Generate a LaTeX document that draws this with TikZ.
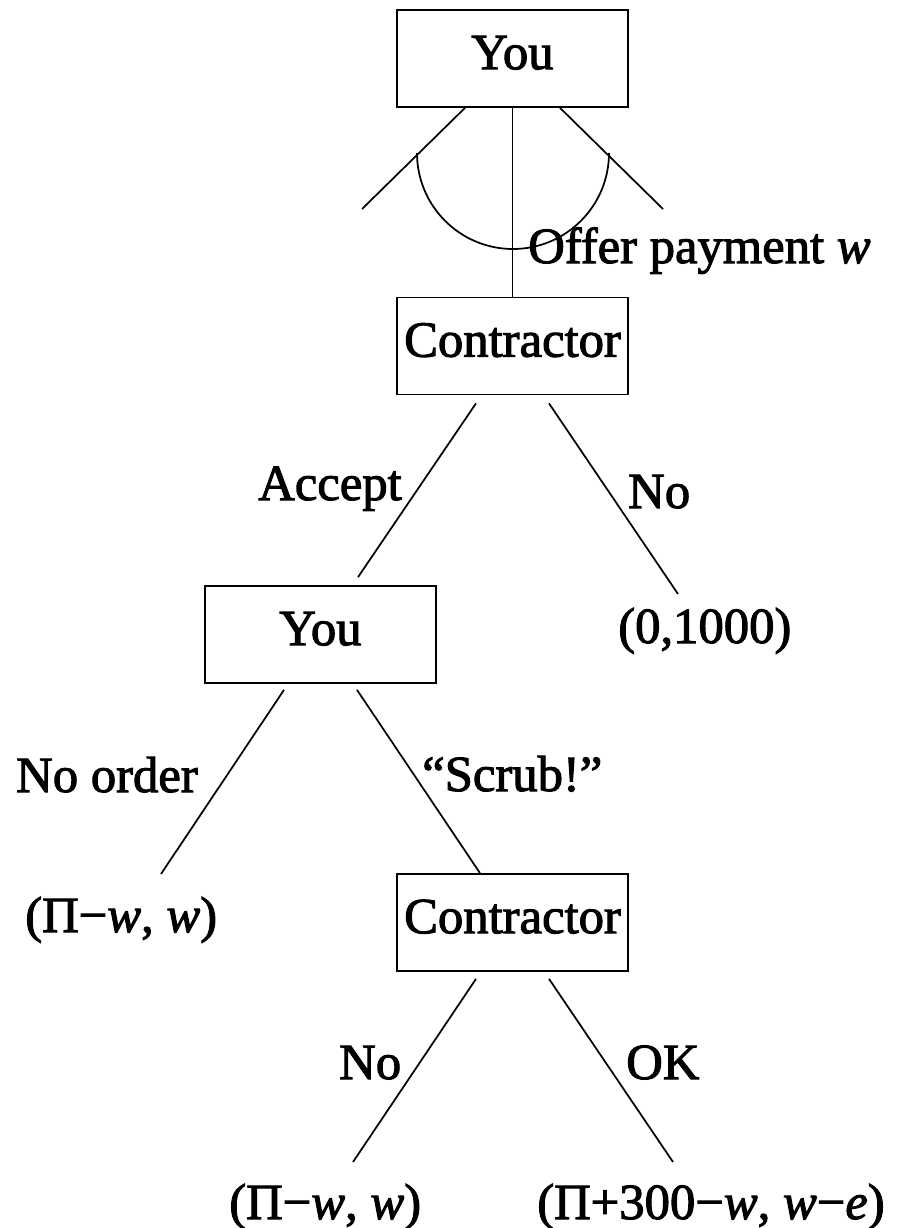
\documentclass[tikz,border=0pt]{standalone}
\usepackage{fontspec}
\setmainfont{Liberation Serif}[FakeBold=2]
\usetikzlibrary{calc}

\newcommand{\vw}{\textit{w}}
\newcommand{\ve}{\textit{e}}

\tikzset{
  pic text/.style={font=\fontsize{38}{45}\selectfont, inner sep=0pt},
  player/.style={draw, line width=1.3pt, rectangle, inner sep=0pt,
    minimum width=173.25pt, minimum height=72.75pt,
    text height=25pt, text depth=9pt, font=\fontsize{38}{45}\selectfont},
  move/.style={line width=1.3pt},
  lab/.style={pic text, anchor=base west},
}

\begin{document}
\begin{tikzpicture}[x=0.75pt, y=-0.75pt]
  \useasboundingbox (0,0) rectangle (909,1228);

  % decision nodes
  \node[player] (you1) at (512.5,58.5) {You};
  \node[player] (con1) at (512.5,346) {Contractor};
  \node[player] (you2) at (320.5,634.5) {You};
  \node[player] (con2) at (512.5,922.5) {Contractor};

  % free ends of branches
  \coordinate (offL) at (362,209);
  \coordinate (offR) at (663,209);
  \coordinate (endNo1) at (678,594);
  \coordinate (endNoOrder) at (161,874);
  \coordinate (endNo2) at (353,1162);
  \coordinate (endOK) at (673,1162);

  % the continuum of offers from the first node
  \draw[move] ($(you1.south)+(-47.5,0)$) -- (offL);
  \draw[move] ($(you1.south)+(47.5,0)$) -- (offR);
  \draw[move] (you1.south) -- (con1.north);
  \draw[move] (417,153) arc[start angle=180, end angle=0, radius=96];

  % contractor's first reply
  \draw[move] ($(con1.south)+(-36.5,8)$) -- ($(you2.north)+(37.5,-8)$);
  \draw[move] ($(con1.south)+(36.5,8)$) -- (endNo1);

  % your order
  \draw[move] ($(you2.south)+(-36.5,6)$) -- (endNoOrder);
  \draw[move] ($(you2.south)+(36.5,6)$) -- ($(con2.north)+(-32.5,0)$);

  % contractor's second reply
  \draw[move] ($(con2.south)+(-36.5,7)$) -- (endNo2);
  \draw[move] ($(con2.south)+(36.5,7)$) -- (endOK);

  % branch labels and payoffs
  \node[lab] (lOffer) at (528,263) {Offer payment \vw};
  \node[lab] (lAccept) at (258,500) {Accept};
  \node[lab] (lNo1) at (628,508) {No};
  \node[lab] (pNo1) at (618,643) {(0,1000)};
  \node[lab] (lNoOrder) at (16,792) {No order};
  \node[lab] (lScrub) at (422,791) {“Scrub!”};
  \node[lab] (pNoOrder) at (25,932) {(Π−\vw, \vw)};
  \node[lab] (lNo2) at (339,1079) {No};
  \node[lab] (lOK) at (626,1079) {OK};
  \node[lab] (pNo2) at (229,1219) {(Π−\vw, \vw)};
  \node[lab] (pOK) at (537,1219) {(Π+300−\vw, \vw−\ve)};
\end{tikzpicture}
\end{document}
